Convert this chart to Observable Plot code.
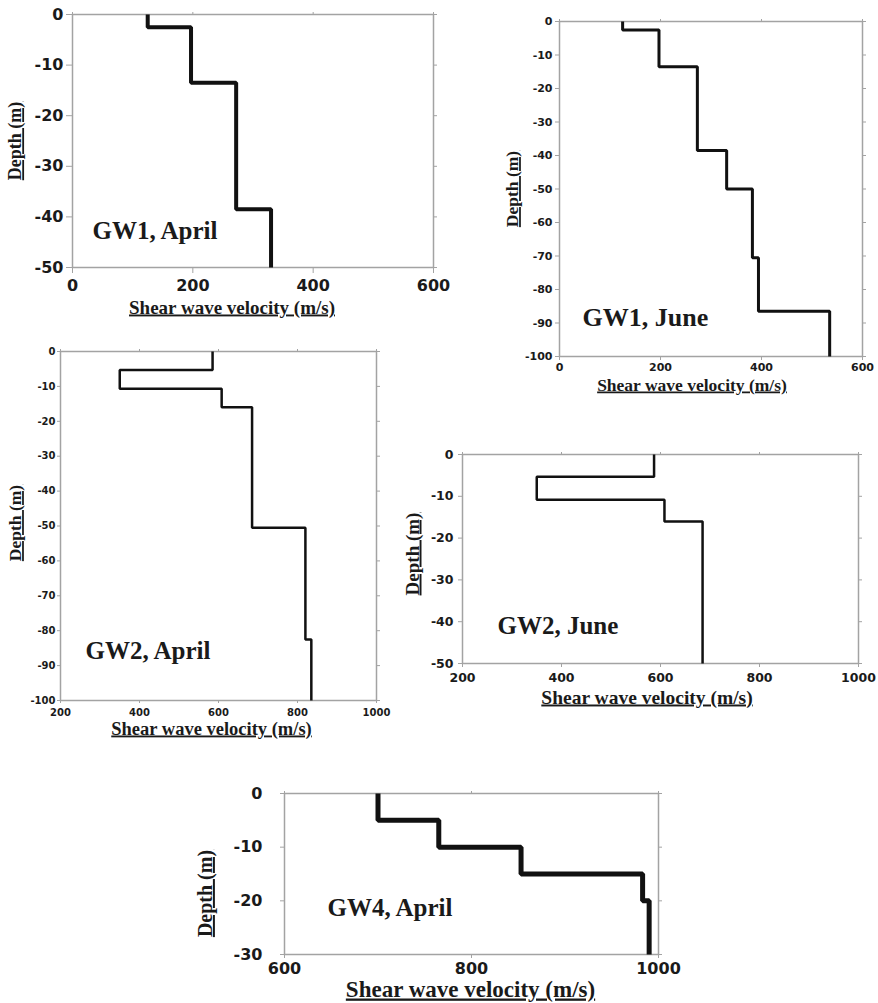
<!DOCTYPE html>
<html><head><meta charset="utf-8">
<script src="https://cdn.jsdelivr.net/npm/d3@7"></script>
<script src="https://cdn.jsdelivr.net/npm/@observablehq/plot@0.6"></script>
<style>
body{margin:0;background:#fff}
#root{position:relative;width:878px;height:1003px;overflow:hidden;background:#fff}
#root svg{position:absolute;background:transparent}
</style>
</head><body><div id="root"></div>
<script>
// ---- data ----
const gw1AprilTop = [0, -2.5, -13.5, -38.5];
const gw1AprilVs = [125, 197, 272, 330];
const gw1AprilBottom = -50;

const gw1JuneTop = [0, -2.5, -13.5, -38.5, -50, -70.5, -86.5];
const gw1JuneVs = [125, 197, 273, 331, 382, 394, 535];
const gw1JuneBottom = -100;

const gw2AprilTop = [0, -5.3, -10.7, -16, -50.5, -82.5];
const gw2AprilVs = [585, 350, 608, 685, 820, 835];
const gw2AprilBottom = -100;

const gw2JuneTop = [0, -5.3, -10.8, -16];
const gw2JuneVs = [587, 350, 608, 685];
const gw2JuneBottom = -50;

const gw4AprilTop = [0, -5, -10, -15, -20];
const gw4AprilVs = [700, 765, 853, 983, 990];
const gw4AprilBottom = -30;

const xTicks0600 = [0, 200, 400, 600];
const xTicks2001000 = [200, 400, 600, 800, 1000];
const xTicks6001000 = [600, 800, 1000];
const yTicks50 = [0, -10, -20, -30, -40, -50];
const yTicks100 = [0, -10, -20, -30, -40, -50, -60, -70, -80, -90, -100];
const yTicks30 = [0, -10, -20, -30];

const xTitle = "Shear wave velocity (m/s)";
const yTitle = "Depth (m)";

// ---- layout / style ----
const panels = [
  {name: "GW1, April", top: gw1AprilTop, vs: gw1AprilVs, bottom: gw1AprilBottom,
   xd: [0, 600], xt: xTicks0600, yd: [-50, 0], yt: yTicks50,
   L: 0, T: 0, W: 450, H: 325, ml: 72, mr: 17, mt: 14, mb: 58,
   tf: 16, ts: 6, yp: 3, xp: 6, lw: 4,
   nf: 25, ndx: 20, ndy: -29, xf: 19, xdx: -21, xdy: 46, yf: 18, ydx: -57, ydy: 0},
  {name: "GW1, June", top: gw1JuneTop, vs: gw1JuneVs, bottom: gw1JuneBottom,
   xd: [0, 600], xt: xTicks0600, yd: [-100, 0], yt: yTicks100,
   L: 480, T: 0, W: 398, H: 400, ml: 79, mr: 16, mt: 21, mb: 44,
   tf: 11, ts: 4, yp: 3, xp: 3, lw: 3,
   nf: 26, ndx: 23, ndy: -31, xf: 17.5, xdx: -19, xdy: 34, yf: 17.5, ydx: -47, ydy: 0},
  {name: "GW2, April", top: gw2AprilTop, vs: gw2AprilVs, bottom: gw2AprilBottom,
   xd: [200, 1000], xt: xTicks2001000, yd: [-100, 0], yt: yTicks100,
   L: 0, T: 330, W: 400, H: 420, ml: 60, mr: 24, mt: 21, mb: 50,
   tf: 10, ts: 3, yp: 2, xp: 5, lw: 2.5,
   nf: 25, ndx: 25, ndy: -42, xf: 18.5, xdx: -7, xdy: 34, yf: 17.5, ydx: -45, ydy: -3},
  {name: "GW2, June", top: gw2JuneTop, vs: gw2JuneVs, bottom: gw2JuneBottom,
   xd: [200, 1000], xt: xTicks2001000, yd: [-50, 0], yt: yTicks50,
   L: 400, T: 440, W: 478, H: 300, ml: 62, mr: 20, mt: 14, mb: 77,
   tf: 12.5, ts: 4, yp: 5, xp: 6, lw: 2.5,
   nf: 25, ndx: 35, ndy: -30, xf: 19.5, xdx: -13.5, xdy: 40, yf: 19, ydx: -50, ydy: -5},
  {name: "GW4, April", top: gw4AprilTop, vs: gw4AprilVs, bottom: gw4AprilBottom,
   xd: [600, 1000], xt: xTicks6001000, yd: [-30, 0], yt: yTicks30,
   L: 180, T: 770, W: 500, H: 233, ml: 104, mr: 22, mt: 23, mb: 49,
   tf: 16, ts: 4, yp: 18, xp: 4, lw: 5,
   nf: 25, ndx: 43, ndy: -39, xf: 23, xdx: -1, xdy: 42, yf: 20, ydx: -79, ydy: 19.5}
];

const root = document.getElementById("root");
const gray = "#a3a3a3";
const serif = "'Liberation Serif', 'Times New Roman', serif";
const sans = "'DejaVu Sans', sans-serif";

for (const p of panels) {
  const pts = p.top.map((d, i) => ({v: p.vs[i], d}));
  pts.push({v: p.vs[p.vs.length - 1], d: p.bottom});
  const fmt = d => String(d);
  const svg = Plot.plot({
    width: p.W, height: p.H,
    marginLeft: p.ml, marginRight: p.mr, marginTop: p.mt, marginBottom: p.mb,
    style: {fontFamily: sans, background: "transparent", overflow: "visible"},
    x: {domain: p.xd},
    y: {domain: p.yd},
    marks: [
      Plot.frame({stroke: gray, strokeWidth: 1.5}),
      Plot.axisX({ticks: p.xt, tickSize: p.ts, tickPadding: p.xp, tickFormat: fmt, fontSize: p.tf, fontWeight: "bold", stroke: gray, fill: "#1a1a1a", label: null}),
      Plot.axisX({anchor: "top", ticks: p.xt, tickSize: 3, tickFormat: () => "", stroke: gray, label: null}),
      Plot.axisY({ticks: p.yt, tickSize: p.ts, tickPadding: p.yp, tickFormat: fmt, fontSize: p.tf, fontWeight: "bold", stroke: gray, fill: "#1a1a1a", label: null}),
      Plot.axisY({anchor: "right", ticks: p.yt, tickSize: 3, tickFormat: () => "", stroke: gray, label: null}),
      Plot.line(pts, {x: "v", y: "d", curve: "step-before", stroke: "#111", strokeWidth: p.lw, strokeLinejoin: "miter", strokeLinecap: "butt"}),
      Plot.text([p.name], {text: d => d, frameAnchor: "bottom-left", textAnchor: "start", lineAnchor: "bottom", dx: p.ndx, dy: p.ndy, fontSize: p.nf, fontFamily: serif, fontWeight: "bold", fill: "#1a1a1a"}),
      Plot.text([xTitle], {text: d => d, frameAnchor: "bottom", textAnchor: "middle", lineAnchor: "bottom", dx: p.xdx, dy: p.xdy, fontSize: p.xf, fontFamily: serif, fontWeight: "bold", fill: "#1a1a1a"}),
      Plot.text([yTitle], {text: d => d, frameAnchor: "left", textAnchor: "middle", lineAnchor: "middle", rotate: -90, dx: p.ydx, dy: p.ydy, fontSize: p.yf, fontFamily: serif, fontWeight: "bold", fill: "#1a1a1a"})
    ]
  });
  svg.style.left = p.L + "px";
  svg.style.top = p.T + "px";
  d3.select(svg).selectAll("text").filter(function() {
    const t = this.textContent;
    return t === xTitle || t === yTitle;
  }).style("text-decoration", "underline");
  root.appendChild(svg);
}
</script>
</body></html>
